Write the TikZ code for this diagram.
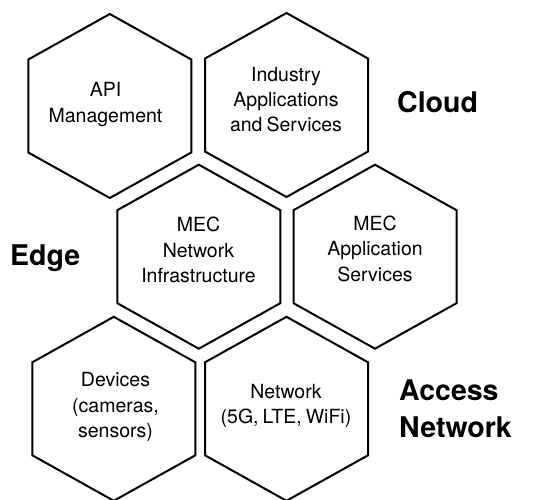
\documentclass[tikz,border=0pt]{standalone}
\usepackage{fontspec}
\setmainfont{TeX Gyre Heros}
% cell text font with slightly tighter word spacing
\newcommand\cellfont{\fontsize{19.5}{25.3}\selectfont\spaceskip=4pt plus 2pt minus 1pt\relax}
\begin{document}
\begin{tikzpicture}[x=1pt,y=-1pt,
  hexline/.style={draw=black,line width=2pt,line join=miter},
  hexlabel/.style={align=center,font=\cellfont,inner sep=0pt},
  tierlabel/.style={font=\fontsize{28.5}{36.5}\selectfont\bfseries,inner sep=0pt,align=left}]
\useasboundingbox (0,0) rectangle (533,500);
% pointy-top hexagon around a centre coordinate
\newcommand\hexcell[1]{\draw[hexline] (#1) +(0,-92) -- +(81.5,-46.5) -- +(81.5,46.5) -- +(0,92) -- +(-81.5,46.5) -- +(-81.5,-46.5) -- cycle;}

% cell centres
\coordinate (c1) at (109.8,106);
\coordinate (c2) at (286.5,105);
\coordinate (c3) at (198.8,256.7);
\coordinate (c4) at (375,256.7);
\coordinate (c5) at (113.8,408.8);
\coordinate (c6) at (286.5,408.8);

\hexcell{c1}
\hexcell{c2}
\hexcell{c3}
\hexcell{c4}
\hexcell{c5}
\hexcell{c6}

% cell texts
\node[hexlabel] (api) at (105.5,104.5) {API\\Management};
\node[hexlabel] (industry) at (286,99.5) {Industry\\Applications\\and Services};
\node[hexlabel] (mecnet) at (198.5,250) {MEC\\Network\\Infrastructure};
\node[hexlabel] (mecapp) at (375,248.7) {MEC\\Application\\Services};
\node[hexlabel] (devices) at (115.5,407) {Devices\\(cameras,\\sensors)};
\node[hexlabel] (network) at (286,406) {Network\\(5G, LTE, WiFi)};

% tier names
\node[tierlabel,anchor=base west] (cloud) at (397,112.5) {Cloud};
\node[tierlabel,anchor=base west] (edge) at (10,265) {Edge};
\node[tierlabel,anchor=north west] (access) at (399,380) {Access\\Network};
\end{tikzpicture}
\end{document}
